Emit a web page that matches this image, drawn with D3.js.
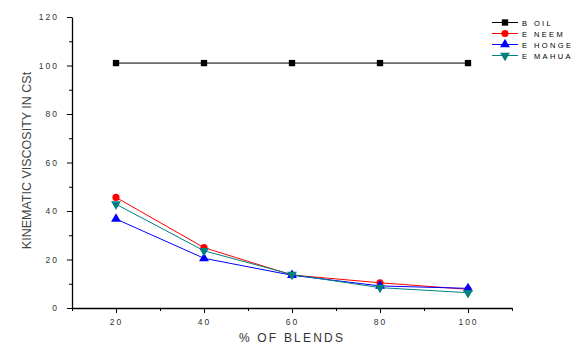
<!DOCTYPE html>
<html>
<head>
<meta charset="utf-8">
<script src="https://cdn.jsdelivr.net/npm/d3@7"></script>
<style>
  body { margin: 0; background: #fff; }
  text { font-family: "Liberation Sans", Arial, sans-serif; }
</style>
</head>
<body>
<div id="chart"></div>
<script>
// data
let blends = [20, 40, 60, 80, 100];
let bOil = [101, 101, 101, 101, 101];
let eNeem = [45.6, 24.9, 13.6, 10.4, 7.7];
let eHonge = [36.7, 20.5, 13.5, 9.1, 8.1];
let eMahua = [42.8, 23.6, 13.8, 8.4, 6.3];
let xTicks = [20, 40, 60, 80, 100];
let yTicks = [0, 20, 40, 60, 80, 100, 120];

let series = [
    { name: 'B  OIL', values: bOil, color: '#000000', shape: 'square' },
    { name: 'E  NEEM', values: eNeem, color: '#ff0000', shape: 'circle' },
    { name: 'E  HONGE', values: eHonge, color: '#0000ff', shape: 'up' },
    { name: 'E  MAHUA', values: eMahua, color: '#008080', shape: 'down' }
];

let width = 577;
let height = 347;
let margin = { top: 17, right: 65, bottom: 39, left: 72 };

let svg = d3.select('#chart')
    .append('svg')
    .attr('width', width)
    .attr('height', height);

let x = d3.scaleLinear().domain([10, 110]).range([margin.left, width - margin.right]);
let y = d3.scaleLinear().domain([0, 120]).range([height - margin.bottom, margin.top]);

// x axis, major + minor ticks
svg.append('g')
    .attr('transform', `translate(0,${y(0)})`)
    .call(d3.axisBottom(x).tickValues([10, 30, 50, 70, 90, 110]).tickSize(3).tickFormat(''))
    .call(g => g.select('.domain').remove());
let gx = svg.append('g')
    .attr('transform', `translate(0,${y(0)})`)
    .call(d3.axisBottom(x).tickValues(xTicks).tickSize(5).tickSizeOuter(0).tickPadding(6));
gx.select('.domain').attr('stroke', '#000').attr('stroke-width', 1.3);
gx.selectAll('text')
    .style('font-size', '8.5px')
    .style('letter-spacing', '2px')
    .attr('fill', '#333');

// y axis, major + minor ticks
svg.append('g')
    .attr('transform', `translate(${x(10)},0)`)
    .call(d3.axisLeft(y).tickValues([10, 30, 50, 70, 90, 110]).tickSize(3).tickFormat(''))
    .call(g => g.select('.domain').remove());
let gy = svg.append('g')
    .attr('transform', `translate(${x(10)},0)`)
    .call(d3.axisLeft(y).tickValues(yTicks).tickSize(5).tickSizeOuter(0).tickPadding(8));
gy.select('.domain').attr('stroke', '#000').attr('stroke-width', 1.3);
gy.selectAll('text')
    .style('font-size', '8.5px')
    .style('letter-spacing', '2px')
    .attr('fill', '#333');

// axis titles
svg.append('text')
    .text('% OF BLENDS')
    .attr('x', 292)
    .attr('y', 342)
    .attr('text-anchor', 'middle')
    .style('font-size', '12px')
    .style('letter-spacing', '2.2px')
    .attr('fill', '#333');

svg.append('text')
    .text('KINEMATIC VISCOSITY IN CSt')
    .attr('transform', `translate(31,${(y(0) + y(120)) / 2 - 2}) rotate(-90)`)
    .attr('text-anchor', 'middle')
    .style('font-size', '12.5px')
    .attr('fill', '#444');

function marker(g, shape, color) {
    let sym = {
        square: d3.symbolSquare,
        circle: d3.symbolCircle,
        up: d3.symbolTriangle
    };
    if (shape === 'down') {
        g.append('path')
            .attr('d', d3.symbol(d3.symbolTriangle, 42)())
            .attr('transform', 'rotate(180)')
            .attr('fill', color);
    } else {
        let size = shape === 'up' ? 42 : 40;
        g.append('path')
            .attr('d', d3.symbol(sym[shape], size)())
            .attr('fill', color);
    }
}

let line = d3.line()
    .x((d, i) => x(blends[i]))
    .y(d => y(d));

series.forEach(s => {
    svg.append('path')
        .datum(s.values)
        .attr('d', line)
        .attr('fill', 'none')
        .attr('stroke', s.color)
        .attr('stroke-width', 1);
});

series.forEach(s => {
    s.values.forEach((v, i) => {
        let g = svg.append('g').attr('transform', `translate(${x(blends[i])},${y(v)})`);
        marker(g, s.shape, s.color);
    });
});

// legend
let legend = svg.append('g').attr('transform', 'translate(492,22.5)');
series.forEach((s, i) => {
    let row = legend.append('g').attr('transform', `translate(0,${i * 11})`);
    row.append('line')
        .attr('x1', 0).attr('x2', 26)
        .attr('stroke', s.color)
        .attr('stroke-width', 1);
    let m = row.append('g').attr('transform', 'translate(13,0)');
    marker(m, s.shape, s.color);
    row.append('text')
        .text(s.name)
        .attr('x', 30)
        .attr('y', 3)
        .style('font-size', '7.5px')
        .style('letter-spacing', '2.4px')
        .attr('fill', '#000');
});
</script>
</body>
</html>
